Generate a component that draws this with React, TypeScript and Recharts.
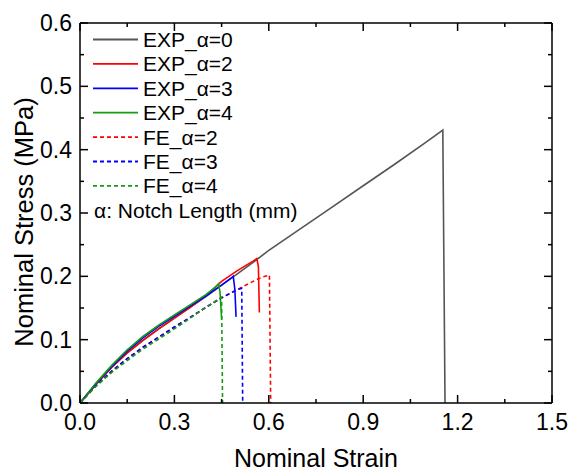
import { LineChart, Line, XAxis, YAxis, Legend } from 'recharts';

const FONT = '"Liberation Sans", Arial, sans-serif';

// x axis: Nominal Strain, y axis: Nominal Stress (MPa)
const xTicks = [0, 0.15, 0.3, 0.45, 0.6, 0.75, 0.9, 1.05, 1.2, 1.35, 1.5];
const yTicks = [0, 0.05, 0.1, 0.15, 0.2, 0.25, 0.3, 0.35, 0.4, 0.45, 0.5, 0.55, 0.6];
const xMajorStep = 0.3;
const yMajorStep = 0.1;

// EXP_α=0
const exp0X = [0, 0.05, 0.1, 0.15, 0.2, 0.25, 0.3, 0.35, 0.4, 0.45, 0.5, 0.55, 0.6, 0.7, 0.8, 0.9, 1.0, 1.1, 1.153, 1.16];
const exp0Y = [0, 0.029, 0.056, 0.079, 0.099, 0.117, 0.134, 0.151, 0.168, 0.186, 0.204, 0.222, 0.241, 0.275, 0.309, 0.343, 0.377, 0.412, 0.431, 0];
// EXP_α=2
const exp2X = [0, 0.05, 0.1, 0.15, 0.2, 0.25, 0.3, 0.35, 0.4, 0.45, 0.5, 0.55, 0.562, 0.567, 0.57];
const exp2Y = [0, 0.029, 0.056, 0.079, 0.099, 0.117, 0.134, 0.151, 0.169, 0.192, 0.209, 0.224, 0.228, 0.215, 0.143];
// EXP_α=3
const exp3X = [0, 0.05, 0.1, 0.15, 0.2, 0.25, 0.3, 0.35, 0.4, 0.45, 0.48, 0.487, 0.492, 0.496];
const exp3Y = [0, 0.03, 0.057, 0.082, 0.103, 0.121, 0.137, 0.153, 0.169, 0.186, 0.197, 0.2, 0.18, 0.136];
// EXP_α=4
const exp4X = [0, 0.05, 0.1, 0.15, 0.2, 0.25, 0.3, 0.35, 0.4, 0.43, 0.44, 0.445, 0.448, 0.45];
const exp4Y = [0, 0.031, 0.059, 0.084, 0.105, 0.123, 0.139, 0.155, 0.171, 0.183, 0.188, 0.175, 0.15, 0.132];
// FE_α=2
const fe2X = [0, 0.05, 0.1, 0.15, 0.2, 0.25, 0.3, 0.35, 0.4, 0.45, 0.5, 0.55, 0.58, 0.602, 0.606];
const fe2Y = [0, 0.027, 0.05, 0.07, 0.088, 0.104, 0.12, 0.135, 0.151, 0.166, 0.179, 0.192, 0.199, 0.202, 0];
// FE_α=3
const fe3X = [0, 0.05, 0.1, 0.15, 0.2, 0.25, 0.3, 0.35, 0.4, 0.45, 0.5, 0.514, 0.517];
const fe3Y = [0, 0.027, 0.05, 0.07, 0.088, 0.104, 0.12, 0.135, 0.151, 0.166, 0.179, 0.181, 0];
// FE_α=4
const fe4X = [0, 0.05, 0.1, 0.15, 0.2, 0.25, 0.3, 0.35, 0.4, 0.45, 0.453];
const fe4Y = [0, 0.026, 0.048, 0.067, 0.085, 0.101, 0.117, 0.134, 0.151, 0.167, 0];

const GRAY = '#555555';
const RED = '#ff0000';
const BLUE = '#0000ff';
const GREEN = '#139c13';

const series = [
  { name: 'EXP_α=0', xs: exp0X, ys: exp0Y, color: GRAY, dashed: false },
  { name: 'EXP_α=2', xs: exp2X, ys: exp2Y, color: RED, dashed: false },
  { name: 'EXP_α=3', xs: exp3X, ys: exp3Y, color: BLUE, dashed: false },
  { name: 'EXP_α=4', xs: exp4X, ys: exp4Y, color: GREEN, dashed: false },
  { name: 'FE_α=2', xs: fe2X, ys: fe2Y, color: RED, dashed: true },
  { name: 'FE_α=3', xs: fe3X, ys: fe3Y, color: BLUE, dashed: true },
  { name: 'FE_α=4', xs: fe4X, ys: fe4Y, color: GREEN, dashed: true },
];
const legendNote = 'α: Notch Length (mm)';

const toPoints = (xs: number[], ys: number[]) => xs.map((x, i) => ({ x, y: ys[i] }));
const isMajor = (v: number, step: number) => Math.abs(v / step - Math.round(v / step)) < 1e-6;

const MAJOR = 8;
const MINOR = 4;

const BottomTick = ({ x, y, payload }: any) => {
  const major = isMajor(payload.value, xMajorStep);
  return (
    <g>
      <line x1={x} x2={x} y1={y} y2={y - (major ? MAJOR : MINOR)} stroke="#000" strokeWidth={1.5} />
      {major && (
        <text x={x} y={y + 27} textAnchor="middle" fontSize={23} fontFamily={FONT} fill="#000">
          {payload.value.toFixed(1)}
        </text>
      )}
    </g>
  );
};

const TopTick = ({ x, y, payload }: any) => {
  const major = isMajor(payload.value, xMajorStep);
  return <line x1={x} x2={x} y1={y} y2={y + (major ? MAJOR : MINOR)} stroke="#000" strokeWidth={1.5} />;
};

const LeftTick = ({ x, y, payload }: any) => {
  const major = isMajor(payload.value, yMajorStep);
  return (
    <g>
      <line x1={x} x2={x + (major ? MAJOR : MINOR)} y1={y} y2={y} stroke="#000" strokeWidth={1.5} />
      {major && (
        <text x={x - 8} y={y + 8} textAnchor="end" fontSize={23} fontFamily={FONT} fill="#000">
          {payload.value.toFixed(1)}
        </text>
      )}
    </g>
  );
};

const RightTick = ({ x, y, payload }: any) => {
  const major = isMajor(payload.value, yMajorStep);
  return <line x1={x} x2={x - (major ? MAJOR : MINOR)} y1={y} y2={y} stroke="#000" strokeWidth={1.5} />;
};

const LegendBox = () => (
  <svg width={300} height={230} style={{ display: 'block' }}>
    {series.map((s, i) => {
      const y = 39.5 + i * 24.4;
      return (
        <g key={s.name}>
          <line x1={93} x2={138} y1={y} y2={y} stroke={s.color} strokeWidth={1.8} strokeDasharray={s.dashed ? '4 3' : undefined} />
          <text x={143} y={y + 7.5} fontSize={21} fontFamily={FONT} fill="#000">{s.name}</text>
        </g>
      );
    })}
    <text x={94} y={39.5 + 7 * 24.4 + 7.5} fontSize={21} fontFamily={FONT} fill="#000">{legendNote}</text>
  </svg>
);

export default function App() {
  return (
    <div style={{ position: 'absolute', left: 0, top: 0, background: '#fff' }}>
      <LineChart width={569} height={471} margin={{ top: 22, right: 16, bottom: 67, left: 79 }}>
        <XAxis
          xAxisId="bottom" dataKey="x" type="number" domain={[0, 1.5]} ticks={xTicks} allowDataOverflow
          height={1} tickSize={0} tickMargin={0} tickLine={false} tick={<BottomTick />} interval={0}
          axisLine={{ stroke: '#000', strokeWidth: 1.5 }}
        />
        <XAxis
          xAxisId="top" orientation="top" dataKey="x" type="number" domain={[0, 1.5]} ticks={xTicks} allowDataOverflow
          height={1} tickSize={0} tickMargin={0} tickLine={false} tick={<TopTick />} interval={0}
          axisLine={{ stroke: '#000', strokeWidth: 1.5 }}
        />
        <YAxis
          yAxisId="left" type="number" domain={[0, 0.6]} ticks={yTicks} allowDataOverflow
          width={1} tickSize={0} tickMargin={0} tickLine={false} tick={<LeftTick />} interval={0}
          axisLine={{ stroke: '#000', strokeWidth: 1.5 }}
        />
        <YAxis
          yAxisId="right" orientation="right" type="number" domain={[0, 0.6]} ticks={yTicks} allowDataOverflow
          width={1} tickSize={0} tickMargin={0} tickLine={false} tick={<RightTick />} interval={0}
          axisLine={{ stroke: '#000', strokeWidth: 1.5 }}
        />
        {series.map((s) => (
          <Line
            key={s.name}
            xAxisId="bottom"
            yAxisId="left"
            data={toPoints(s.xs, s.ys)}
            dataKey="y"
            name={s.name}
            type="linear"
            stroke={s.color}
            strokeWidth={1.6}
            strokeDasharray={s.dashed ? '4 3' : undefined}
            dot={false}
            activeDot={false}
            isAnimationActive={false}
          />
        ))}
        <Legend
          layout="vertical" align="center" verticalAlign="middle"
          wrapperStyle={{ left: 0, top: 0, width: 300, height: 230 }}
          content={() => <LegendBox />}
        />
        <text x={316} y={467} textAnchor="middle" fontSize={25} fontFamily={FONT} fill="#000">Nominal Strain</text>
        <text x={33} y={222} transform="rotate(-90 33 222)" textAnchor="middle" fontSize={25.5} fontFamily={FONT} fill="#000">
          Nominal Stress (MPa)
        </text>
      </LineChart>
    </div>
  );
}
